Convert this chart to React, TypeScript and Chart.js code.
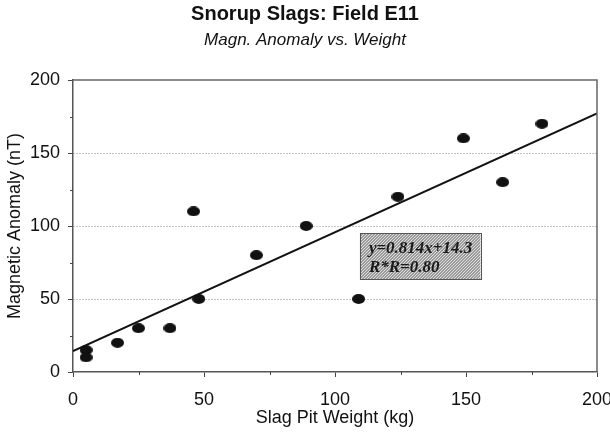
import React, { useEffect, useRef } from "react";
import { Chart, registerables } from "chart.js";

Chart.register(...registerables);

const weights = [5, 5, 17, 25, 37, 46, 48, 70, 89, 109, 124, 149, 164, 179];
const anomalies = [15, 10, 20, 30, 30, 110, 50, 80, 100, 50, 120, 160, 130, 170];
const trendSlope = 0.814;
const trendIntercept = 14.3;
const trendRange = [0, 200];
const xTicks = [0, 50, 100, 150, 200];
const yTicks = [0, 50, 100, 150, 200];
const minorXTicks = [25, 75, 125, 175];
const minorYTicks = [25, 75, 125, 175];
const equationLines = ["y=0.814x+14.3", "R*R=0.80"];

function makeDot(): HTMLCanvasElement {
  const c = document.createElement("canvas");
  c.width = 13;
  c.height = 10;
  const g = c.getContext("2d")!;
  g.fillStyle = "#111";
  g.beginPath();
  g.ellipse(6.5, 5, 6.5, 5, 0, 0, Math.PI * 2);
  g.fill();
  return c;
}

function makePattern(ctx: CanvasRenderingContext2D): CanvasPattern | string {
  const c = document.createElement("canvas");
  c.width = 3;
  c.height = 3;
  const g = c.getContext("2d")!;
  g.fillStyle = "#9a9a9a";
  g.fillRect(0, 0, 3, 3);
  g.fillStyle = "#e0e0e0";
  g.fillRect(0, 0, 1, 1);
  g.fillRect(2, 1, 1, 1);
  g.fillRect(1, 2, 1, 1);
  return ctx.createPattern(c, "repeat") || "#b0b0b0";
}

const framePlugin = {
  id: "frame",
  afterDraw(chart: any) {
    const { ctx, chartArea, scales } = chart;
    const xs = scales.x;
    const ys = scales.y;
    ctx.save();
    ctx.strokeStyle = "#666";
    ctx.lineWidth = 1.5;
    ctx.beginPath();
    ctx.moveTo(chartArea.left, chartArea.top);
    ctx.lineTo(chartArea.right, chartArea.top);
    ctx.lineTo(chartArea.right, chartArea.bottom);
    ctx.stroke();
    ctx.strokeStyle = "#444";
    ctx.lineWidth = 1;
    ctx.beginPath();
    minorXTicks.forEach((v) => {
      const px = Math.round(xs.getPixelForValue(v)) + 0.5;
      ctx.moveTo(px, chartArea.bottom);
      ctx.lineTo(px, chartArea.bottom + 3);
    });
    minorYTicks.forEach((v) => {
      const py = Math.round(ys.getPixelForValue(v)) + 0.5;
      ctx.moveTo(chartArea.left, py);
      ctx.lineTo(chartArea.left - 3, py);
    });
    ctx.stroke();
    const x1 = xs.getPixelForValue(109.5);
    const x2 = xs.getPixelForValue(155.5);
    const y1 = ys.getPixelForValue(95);
    const y2 = ys.getPixelForValue(63.5);
    ctx.fillStyle = makePattern(ctx);
    ctx.fillRect(x1, y1, x2 - x1, y2 - y1);
    ctx.strokeStyle = "#555";
    ctx.lineWidth = 1;
    ctx.strokeRect(Math.round(x1) + 0.5, Math.round(y1) + 0.5, Math.round(x2 - x1), Math.round(y2 - y1));
    ctx.fillStyle = "#1a1a1a";
    ctx.font = "italic bold 17px 'Liberation Serif', 'DejaVu Serif', serif";
    ctx.textAlign = "left";
    ctx.textBaseline = "middle";
    ctx.fillText(equationLines[0], x1 + 9, y1 + 15);
    ctx.fillText(equationLines[1], x1 + 9, y1 + 34);
    ctx.restore();
  },
};

export default function App() {
  const ref = useRef<HTMLCanvasElement | null>(null);
  useEffect(() => {
    document.body.style.margin = "0";
    const canvas = ref.current!;
    const dot = makeDot();
    const points = weights.map((w, i) => ({ x: w, y: anomalies[i] }));
    const trend = trendRange.map((x) => ({ x, y: trendSlope * x + trendIntercept }));
    const font = "'Liberation Sans', Arial, sans-serif";
    const chart = new Chart(canvas, {
      type: "scatter",
      data: {
        datasets: [
          {
            type: "line",
            data: trend,
            borderColor: "#111",
            borderWidth: 2,
            pointRadius: 0,
            fill: false,
            order: 1,
          } as any,
          {
            data: points,
            pointStyle: dot as any,
            pointRadius: 6,
            backgroundColor: "#111",
            borderColor: "#111",
            order: 2,
          },
        ],
      },
      options: {
        animation: false,
        responsive: true,
        maintainAspectRatio: false,
        layout: { padding: { left: 0, right: 0, top: 0, bottom: 0 } },
        plugins: {
          legend: { display: false },
          tooltip: { enabled: false },
          title: {
            display: true,
            text: "Snorup Slags: Field E11",
            color: "#111",
            font: { family: font, size: 20, weight: "bold" },
            padding: { top: 2, bottom: 4 },
          },
          subtitle: {
            display: true,
            text: "Magn. Anomaly vs. Weight",
            color: "#111",
            font: { family: font, size: 17, style: "italic" },
            padding: { top: 0, bottom: 29.6 },
          },
        },
        scales: {
          x: {
            type: "linear",
            min: 0,
            max: 200,
            afterBuildTicks: (s: any) => {
              s.ticks = xTicks.map((v) => ({ value: v }));
            },
            afterFit: (s: any) => {
              s.height = 62;
              s.paddingRight = 13;
              s.paddingLeft = 0;
            },
            ticks: {
              color: "#111",
              font: { family: font, size: 18 },
              padding: 12,
              maxRotation: 0,
              autoSkip: false,
            },
            grid: {
              drawOnChartArea: false,
              tickLength: 5,
              tickColor: "#444",
            },
            border: { display: true, color: "#555", width: 1.5 },
            title: {
              display: true,
              text: "Slag Pit Weight (kg)",
              color: "#111",
              font: { family: font, size: 18 },
              padding: { top: 0, bottom: 5 },
            },
          },
          y: {
            type: "linear",
            min: 0,
            max: 200,
            afterBuildTicks: (s: any) => {
              s.ticks = yTicks.map((v) => ({ value: v }));
            },
            afterFit: (s: any) => {
              s.width = 73;
            },
            ticks: {
              color: "#111",
              font: { family: font, size: 18 },
              padding: 8,
              autoSkip: false,
            },
            grid: {
              color: (c: any) =>
                c.tick && c.tick.value > 0 && c.tick.value < 200 ? "#888" : "transparent",
              lineWidth: 1,
              tickLength: 5,
              tickColor: "#444",
            },
            border: { display: true, color: "#555", width: 1.5, dash: [1, 2] },
            title: {
              display: true,
              text: "Magnetic Anomaly (nT)",
              color: "#111",
              font: { family: font, size: 18 },
              padding: { top: 4, bottom: 0 },
            },
          },
        },
      },
      plugins: [framePlugin],
    });
    return () => chart.destroy();
  }, []);
  return (
    <div style={{ width: 610, height: 434, position: "relative", background: "#fff" }}>
      <canvas ref={ref} />
    </div>
  );
}
